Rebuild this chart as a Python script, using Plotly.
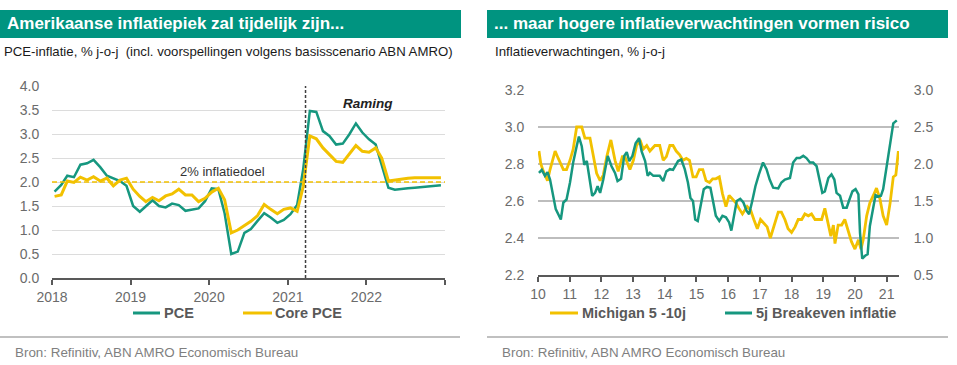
import plotly.graph_objects as go
import pandas as pd

# ---------------- data: left chart (monthly, Jan 2018 - Dec 2022) ----------------
pce = [1.80, 1.94, 2.13, 2.10, 2.36, 2.39, 2.46, 2.31, 2.13, 2.08, 2.02, 1.92,
       1.50, 1.38, 1.49, 1.62, 1.50, 1.47, 1.55, 1.52, 1.40, 1.43, 1.45, 1.60,
       1.87, 1.85, 1.35, 0.50, 0.55, 0.94, 1.02, 1.19, 1.35, 1.26, 1.15, 1.21,
       1.33, 1.52, 2.26, 3.48, 3.46, 3.06, 2.96, 2.78, 2.80, 2.99, 3.22, 3.03,
       2.89, 2.78, 2.37, 1.88, 1.84, 1.86, 1.87, 1.88, 1.89, 1.90, 1.91, 1.93]
core_pce = [1.70, 1.73, 2.02, 1.99, 2.10, 2.04, 2.11, 2.02, 2.08, 1.92, 2.04, 2.08,
            1.85, 1.70, 1.59, 1.68, 1.61, 1.71, 1.75, 1.85, 1.73, 1.73, 1.59, 1.66,
            1.79, 1.87, 1.63, 0.94, 1.00, 1.09, 1.18, 1.30, 1.53, 1.43, 1.34, 1.43,
            1.46, 1.39, 1.90, 2.96, 2.90, 2.71, 2.57, 2.43, 2.41, 2.59, 2.76, 2.64,
            2.62, 2.71, 2.50, 2.02, 2.04, 2.07, 2.08, 2.09, 2.09, 2.09, 2.09, 2.09]
left_start = "2018-01-01"
forecast_start = "2021-03-24"
target = 2.0
left_years = ["2018", "2019", "2020", "2021", "2022", ""]

# ---------------- data: right chart (decimal years) ----------------
mich_t = [2010.03, 2010.09, 2010.17, 2010.30, 2010.38, 2010.54, 2010.64, 2010.80, 2010.90, 2011.01,
          2011.11, 2011.22, 2011.38, 2011.48, 2011.64, 2011.75, 2011.85, 2011.96, 2012.06, 2012.17,
          2012.30, 2012.43, 2012.53, 2012.66, 2012.74, 2012.90, 2013.01, 2013.11, 2013.22, 2013.32,
          2013.43, 2013.53, 2013.69, 2013.84, 2013.95, 2014.05, 2014.16, 2014.26, 2014.36, 2014.47,
          2014.57, 2014.68, 2014.78, 2014.89, 2014.99, 2015.09, 2015.20, 2015.30, 2015.41, 2015.51,
          2015.61, 2015.72, 2015.82, 2015.93, 2016.03, 2016.14, 2016.24, 2016.34, 2016.45, 2016.60,
          2016.71, 2016.81, 2016.92, 2017.02, 2017.13, 2017.23, 2017.33, 2017.44, 2017.58, 2017.68,
          2017.79, 2017.89, 2018.00, 2018.11, 2018.21, 2018.32, 2018.42, 2018.53, 2018.63, 2018.74,
          2018.84, 2018.95, 2019.05, 2019.16, 2019.24, 2019.32, 2019.37, 2019.47, 2019.58, 2019.68,
          2019.79, 2019.89, 2020.00, 2020.11, 2020.19, 2020.26, 2020.37, 2020.47, 2020.58, 2020.68,
          2020.79, 2020.89, 2021.00, 2021.11, 2021.21, 2021.29, 2021.37]
mich_v = [2.87, 2.80, 2.76, 2.71, 2.77, 2.87, 2.83, 2.77, 2.77, 2.82,
          2.88, 3.00, 3.00, 2.94, 2.94, 2.84, 2.75, 2.71, 2.74, 2.84,
          2.93, 2.82, 2.76, 2.84, 2.84, 2.77, 2.82, 2.90, 2.93, 2.88,
          2.90, 2.87, 2.90, 2.90, 2.82, 2.84, 2.90, 2.90, 2.87, 2.85,
          2.82, 2.83, 2.82, 2.73, 2.73, 2.77, 2.77, 2.71, 2.70, 2.72,
          2.72, 2.73, 2.64, 2.57, 2.63, 2.61, 2.59, 2.56, 2.53, 2.57,
          2.55, 2.50, 2.45, 2.50, 2.48, 2.46, 2.40, 2.46, 2.54, 2.54,
          2.50, 2.45, 2.43, 2.46, 2.50, 2.50, 2.53, 2.52, 2.53, 2.50,
          2.50, 2.50, 2.56, 2.47, 2.41, 2.47, 2.37, 2.47, 2.47, 2.50,
          2.43, 2.38, 2.34, 2.39, 2.34, 2.39, 2.52, 2.59, 2.63, 2.67,
          2.61, 2.52, 2.47, 2.59, 2.73, 2.74, 2.87]

be_t = [2010.03, 2010.12, 2010.22, 2010.30, 2010.38, 2010.48, 2010.56, 2010.64, 2010.72, 2010.80,
        2010.90, 2011.01, 2011.11, 2011.22, 2011.29, 2011.38, 2011.46, 2011.54, 2011.61, 2011.71,
        2011.80, 2011.88, 2011.96, 2012.06, 2012.20, 2012.32, 2012.43, 2012.51, 2012.62, 2012.72,
        2012.80, 2012.88, 2012.98, 2013.08, 2013.19, 2013.27, 2013.38, 2013.46, 2013.53, 2013.64,
        2013.84, 2013.95, 2014.05, 2014.16, 2014.26, 2014.42, 2014.52, 2014.63, 2014.73, 2014.81,
        2014.89, 2014.96, 2015.04, 2015.13, 2015.23, 2015.33, 2015.44, 2015.54, 2015.61, 2015.72,
        2015.82, 2015.93, 2016.03, 2016.10, 2016.19, 2016.27, 2016.38, 2016.48, 2016.58, 2016.66,
        2016.76, 2016.86, 2016.97, 2017.10, 2017.21, 2017.31, 2017.42, 2017.58, 2017.68, 2017.79,
        2017.95, 2018.05, 2018.16, 2018.26, 2018.37, 2018.47, 2018.58, 2018.68, 2018.79, 2018.89,
        2018.97, 2019.05, 2019.16, 2019.26, 2019.35, 2019.42, 2019.53, 2019.63, 2019.74, 2019.81,
        2019.92, 2020.02, 2020.11, 2020.16, 2020.23, 2020.32, 2020.40, 2020.47, 2020.58, 2020.65,
        2020.74, 2020.82, 2020.89, 2021.00, 2021.11, 2021.21, 2021.32]
be_v = [1.88, 1.92, 1.84, 1.89, 1.79, 1.59, 1.39, 1.32, 1.25, 1.48,
        1.52, 1.75, 2.02, 2.24, 2.37, 2.24, 1.99, 2.04, 1.84, 1.57,
        1.61, 1.70, 1.61, 1.79, 2.11, 1.97, 1.88, 1.77, 1.80, 2.11,
        2.16, 2.04, 2.11, 2.28, 2.35, 2.17, 2.04, 1.84, 1.88, 1.84,
        1.84, 1.77, 1.90, 1.93, 1.92, 2.04, 2.06, 1.93, 1.75, 1.54,
        1.50, 1.25, 1.23, 1.43, 1.66, 1.69, 1.68, 1.46, 1.30, 1.23,
        1.30, 1.28, 1.21, 1.10, 1.32, 1.50, 1.53, 1.48, 1.37, 1.32,
        1.50, 1.70, 1.86, 2.02, 1.93, 1.79, 1.68, 1.67, 1.75, 1.79,
        1.81, 2.02, 2.08, 2.08, 2.11, 2.08, 2.02, 2.02, 1.97, 1.79,
        1.61, 1.63, 1.81, 1.86, 1.79, 1.61, 1.57, 1.41, 1.41, 1.50,
        1.63, 1.66, 1.59, 1.07, 0.72, 0.76, 0.78, 1.16, 1.43, 1.58,
        1.56, 1.57, 1.66, 1.97, 2.28, 2.55, 2.59]
right_years = list(range(2010, 2022))
right_labels = [str(y)[2:] for y in right_years]

# ---------------- styling ----------------
W, H = 957, 365
TEAL = "#16977F"
GOLD = "#F2C100"
BANNER = "#009480"
TXT = "#1a1a1a"
TICK = "#6b6b6b"
AXIS = "#595959"
FONT = "Liberation Sans"


def fx(p):
    return p / W


def fy(p):
    return 1 - p / H


dates = pd.date_range(left_start, periods=len(pce), freq="MS") + pd.Timedelta(days=12)
year_ticks = pd.date_range(left_start, periods=len(left_years), freq="YS")

fig = go.Figure()
fig.add_trace(go.Scatter(x=dates, y=pce, mode="lines", xaxis="x", yaxis="y",
                         line=dict(color=TEAL, width=2.5), name="PCE"))
fig.add_trace(go.Scatter(x=dates, y=core_pce, mode="lines", xaxis="x", yaxis="y",
                         line=dict(color=GOLD, width=3), name="Core PCE"))
fig.add_trace(go.Scatter(x=mich_t, y=mich_v, mode="lines", xaxis="x2", yaxis="y2",
                         line=dict(color=GOLD, width=2.8), name="Michigan 5 -10j"))
fig.add_trace(go.Scatter(x=be_t, y=be_v, mode="lines", xaxis="x2", yaxis="y3",
                         line=dict(color=TEAL, width=2.5), name="5j Breakeven inflatie"))

tickfont = dict(family=FONT, size=14, color=TICK)

shapes = [
    # banners
    dict(type="rect", xref="paper", yref="paper", x0=fx(0), x1=fx(461), y0=fy(38), y1=fy(10),
         fillcolor=BANNER, line=dict(width=0), layer="below"),
    dict(type="rect", xref="paper", yref="paper", x0=fx(487), x1=fx(948), y0=fy(38), y1=fy(10),
         fillcolor=BANNER, line=dict(width=0), layer="below"),
    # separators
    dict(type="line", xref="paper", yref="paper", x0=fx(0), x1=fx(460), y0=fy(337), y1=fy(337),
         line=dict(color="#c0c0c0", width=2)),
    dict(type="line", xref="paper", yref="paper", x0=fx(487), x1=fx(948), y0=fy(337), y1=fy(337),
         line=dict(color="#c0c0c0", width=2)),
    # target line
    dict(type="line", xref="x domain", yref="y", x0=0, x1=1, y0=target, y1=target,
         line=dict(color=GOLD, width=1.5, dash="5px,3px")),
    # forecast start
    dict(type="line", xref="x", yref="y domain", x0=forecast_start, x1=forecast_start, y0=0, y1=1,
         line=dict(color="#404040", width=1.5, dash="3px,2px")),
    # legend swatches
    dict(type="line", xref="paper", yref="paper", x0=fx(133), x1=fx(160), y0=fy(313), y1=fy(313),
         line=dict(color=TEAL, width=3)),
    dict(type="line", xref="paper", yref="paper", x0=fx(243), x1=fx(272), y0=fy(313), y1=fy(313),
         line=dict(color=GOLD, width=3)),
    dict(type="line", xref="paper", yref="paper", x0=fx(550), x1=fx(578), y0=fy(313), y1=fy(313),
         line=dict(color=GOLD, width=3)),
    dict(type="line", xref="paper", yref="paper", x0=fx(725), x1=fx(752), y0=fy(313), y1=fy(313),
         line=dict(color=TEAL, width=3)),
]


def txt(x, y, s, size=12.5, color=TXT, bold=False, italic=False, xanchor="left", family=FONT):
    if bold:
        s = "<b>" + s + "</b>"
    if italic:
        s = "<i>" + s + "</i>"
    return dict(text=s, x=fx(x), y=fy(y), xref="paper", yref="paper", showarrow=False,
                xanchor=xanchor, yanchor="middle", font=dict(family=family, size=size, color=color))


annotations = [
    txt(5, 24, "Amerikaanse inflatiepiek zal tijdelijk zijn...", size=17, color="white", bold=True),
    txt(492, 24, "... maar hogere inflatieverwachtingen vormen risico", size=17, color="white", bold=True),
    txt(2, 52, "PCE-inflatie, % j-o-j  (incl. voorspellingen volgens basisscenario ABN AMRO)", size=13.2),
    txt(493, 52, "Inflatieverwachtingen, % j-o-j", size=13.3),
    txt(162, 313, "PCE", size=14.5, color=AXIS, bold=True),
    txt(273, 313, "Core PCE", size=14.5, color=AXIS, bold=True),
    txt(580, 313, "Michigan 5 -10j", size=14.5, color=AXIS, bold=True),
    txt(754, 313, "5j Breakeven inflatie", size=14.5, color=AXIS, bold=True),
    txt(13, 352, "Bron: Refinitiv, ABN AMRO Economisch Bureau", size=13.4, color="#7f7f7f"),
    txt(500, 352, "Bron: Refinitiv, ABN AMRO Economisch Bureau", size=13.4, color="#7f7f7f"),
    txt(222, 171, "2% inflatiedoel", size=13, color="#333333", xanchor="center"),
    txt(368, 103, "Raming", size=13.5, color="#222222", bold=True, italic=True, xanchor="center"),
]

fig.update_layout(
    width=W, height=H, autosize=False,
    margin=dict(l=0, r=0, t=0, b=0, pad=0, autoexpand=False),
    paper_bgcolor="white", plot_bgcolor="white",
    showlegend=False, hovermode=False,
    shapes=shapes, annotations=annotations,
    xaxis=dict(domain=[fx(52), fx(445)], type="date",
               range=[year_ticks[0], year_ticks[-1]],
               tickvals=list(year_ticks), ticktext=left_years,
               showline=True, linecolor=AXIS, linewidth=2,
               ticks="outside", ticklen=5, tickwidth=2, tickcolor=AXIS,
               showgrid=False, zeroline=False, anchor="y", tickfont=tickfont, automargin=False),
    yaxis=dict(domain=[fy(278), fy(86)], range=[0, 4], dtick=0.5, tick0=0, tickformat=".1f",
               showgrid=True, gridcolor="#dcdcdc", gridwidth=1, zeroline=False,
               ticks="outside", ticklen=9, tickcolor="rgba(0,0,0,0)",
               showline=False, anchor="x", tickfont=tickfont, automargin=False),
    xaxis2=dict(domain=[fx(538), fx(899)], range=[2010, 2021.39],
                tickvals=right_years, ticktext=right_labels,
                showline=True, linecolor=AXIS, linewidth=2,
                ticks="outside", ticklen=5, tickwidth=2, tickcolor=AXIS,
                showgrid=False, zeroline=False, anchor="y2", tickfont=tickfont, automargin=False),
    yaxis2=dict(domain=[fy(275), fy(90)], range=[2.2, 3.2], dtick=0.2, tick0=2.2, tickformat=".1f",
                showgrid=True, gridcolor="#bdbdbd", gridwidth=1.5, zeroline=False,
                ticks="outside", ticklen=10, tickcolor="rgba(0,0,0,0)",
                showline=False, anchor="x2", tickfont=tickfont, automargin=False),
    yaxis3=dict(range=[0.5, 3.0], dtick=0.5, tick0=0.5, tickformat=".1f",
                overlaying="y2", side="right", anchor="x2",
                showgrid=False, zeroline=False,
                ticks="outside", ticklen=11, tickcolor="rgba(0,0,0,0)",
                showline=False, tickfont=tickfont, automargin=False),
)

fig.write_html("out.html",
               config={"displayModeBar": False, "staticPlot": True},
               post_script="document.body.style.margin='0px';document.body.style.padding='0px';")
